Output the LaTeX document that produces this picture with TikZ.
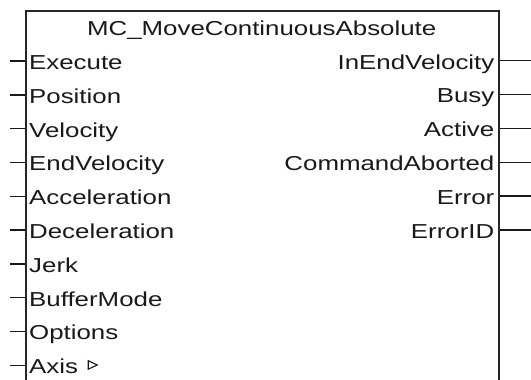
\documentclass[tikz,border=0pt]{standalone}
\usepackage{fontspec}
\setmainfont{Liberation Sans}[FakeStretch=1.28]
\begin{document}
\begin{tikzpicture}[x=1pt,y=-1pt,
  lbl/.style={font=\fontsize{20.2}{24}\selectfont, inner sep=0pt, text=black!90},
  pin/.style={line width=1.4pt, draw=black!90},
  fbox/.style={draw=black!85, line width=2pt, inner sep=0pt, anchor=north west,
    minimum width=473.3pt, minimum height=400pt}]
\useasboundingbox (0,0) rectangle (531,380);
\fill[white] (0,0) rectangle (531,380);
\clip (0,0) rectangle (531,380);
\node[fbox] (fb) at (25,10) {};
\node[lbl, anchor=base] (title) at (261.7,35) {MC\_MoveContinuousAbsolute};
% inputs
\foreach \n/\t [count=\i from 0] in {Execute/Execute, Position/Position, Velocity/Velocity,
  EndVelocity/EndVelocity, Acceleration/Acceleration, Deceleration/Deceleration,
  Jerk/Jerk, BufferMode/BufferMode, Options/Options, Axis/Axis}{
  \pgfmathsetmacro{\yy}{61+33.8*\i}
  \coordinate (in\n) at (10,\yy);
  \draw[pin] (in\n) -- (in\n -| fb.west);
  \node[lbl, anchor=base west] (l\n) at (29,\yy+8.5) {\t};
}
% outputs
\foreach \n/\t [count=\i from 0] in {InEndVelocity/InEndVelocity, Busy/Busy, Active/Active,
  CommandAborted/CommandAborted, Error/Error, ErrorID/ErrorID}{
  \pgfmathsetmacro{\yy}{60.5+33.9*\i}
  \coordinate (out\n) at (531,\yy);
  \draw[pin] (out\n -| fb.east) -- (out\n);
  \node[lbl, anchor=base east] (r\n) at (494.5,\yy+8.5) {\t};
}
% reference marker after Axis
\draw[line width=1.1pt, black!90, line join=miter] ([xshift=10pt,yshift=13pt]lAxis.base east) -- ++(0,8.5) -- ++(9,-4.25) -- cycle;
\end{tikzpicture}
\end{document}
